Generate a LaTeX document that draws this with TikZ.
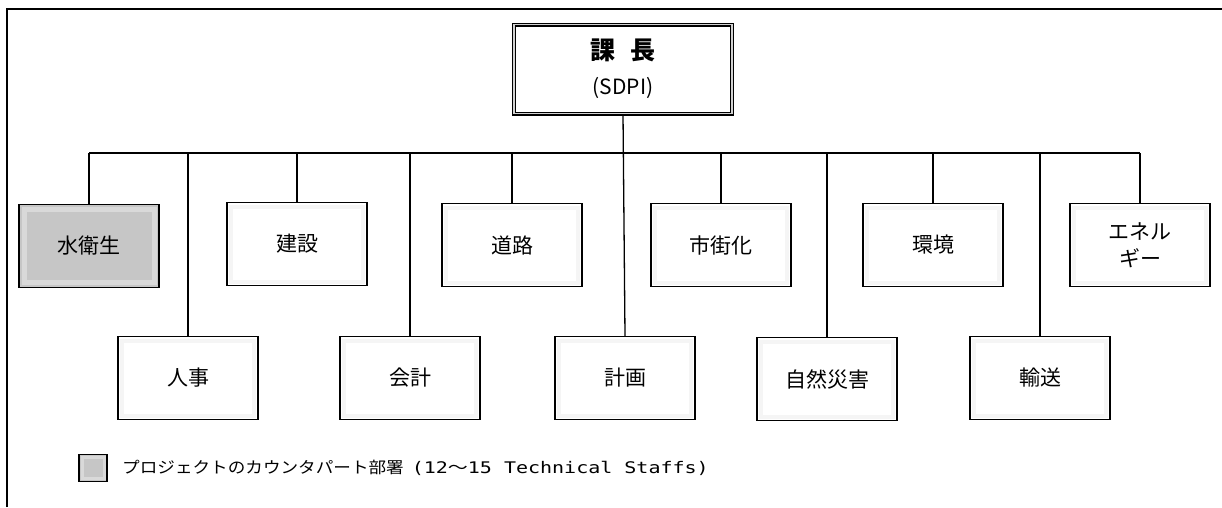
\documentclass[tikz,border=0pt]{standalone}
\usepackage{fontspec}
\usepackage{graphicx}
\setmainfont{Noto Sans CJK JP}
\newfontfamily\legmono{DejaVu Sans Mono}
\newfontfamily\legjp{Noto Sans CJK JP}
\begin{document}
\begin{tikzpicture}[x=1pt,y=-1pt,
  dept/.style={draw=black, line width=1.4pt, fill=white, minimum width=140pt, minimum height=83pt,
    inner sep=0pt, align=center, font=\fontsize{21}{27}\selectfont,
    path picture={\draw[gray!8, line width=4pt]
      ([shift={(4pt,-4pt)}]path picture bounding box.north west) rectangle
      ([shift={(-4pt,4pt)}]path picture bounding box.south east);}},
  counter/.style={dept, fill=gray!45,
    path picture={\draw[gray!30, line width=5pt]
      ([shift={(5pt,-5pt)}]path picture bounding box.north west) rectangle
      ([shift={(-5pt,5pt)}]path picture bounding box.south east);}},
  link/.style={line width=1.3pt},
]
\useasboundingbox (0,0) rectangle (1222,507);
\draw[line width=1.4pt] (7,507) -- (7,9) -- (1222,9);

\node[draw=black, line width=1.2pt, double=gray!35, double distance=1.6pt, fill=white,
  minimum width=218pt, minimum height=89pt, align=center, inner sep=0pt,
  font=\fontsize{21}{35}\selectfont] (head) at (623,69)
  {{\fontsize{25}{35}\selectfont\bfseries 課\hspace{0.6em}長}\\(SDPI)};

% top row
\node[counter] (sui) at (89,246) {水衛生};
\node[dept] (ken) at (297,244) {建設};
\node[dept] (dou) at (512,245) {道路};
\node[dept] (shi) at (721,245) {市街化};
\node[dept] (kan) at (933,245) {環境};
\node[dept] (ene) at (1140,245) {エネル\\ギー};
% bottom row
\node[dept] (jin) at (188,378) {人事};
\node[dept] (kai) at (410,378) {会計};
\node[dept] (kei) at (625,378) {計画};
\node[dept] (shz) at (827,379) {自然災害};
\node[dept] (yus) at (1040,378) {輸送};

\coordinate (bus) at (0,153);
\draw[link] (head.south) -- (kei.north);
\draw[link] (sui.north |- bus) -- (ene.north |- bus);
\foreach \n in {sui,ken,dou,shi,kan,ene,jin,kai,shz,yus}
  \draw[link] (\n.north) -- (\n.north |- bus);

% legend
\node[draw=black, line width=1.4pt, fill=gray!45, minimum width=28pt, minimum height=27pt, inner sep=0pt,
  path picture={\draw[gray!30, line width=3pt]
      ([shift={(3pt,-3pt)}]path picture bounding box.north west) rectangle
      ([shift={(-3pt,3pt)}]path picture bounding box.south east);}] (leg) at (93,468) {};
\node[anchor=west, inner sep=0pt, font=\fontsize{16}{18}\selectfont] (legt) at (122,468)
  {\scalebox{1.1}[1]{プロジェクトのカウンタパート部署}\hspace{0.5em}\scalebox{1.25}[1]{\legmono (12{\legjp ～}15 Technical Staffs)}};
\end{tikzpicture}
\end{document}
